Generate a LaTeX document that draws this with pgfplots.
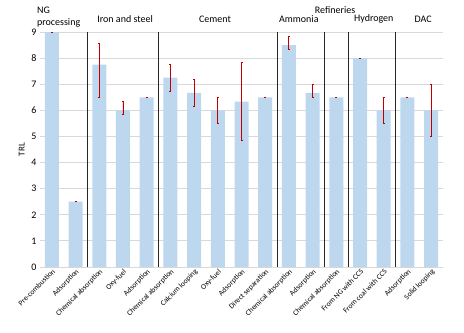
\documentclass[border=0pt]{standalone}
\usepackage{fontspec}
\setmainfont{Carlito}
\usepackage{pgfplots}
\pgfplotsset{compat=1.18}
\usepackage{pgfplotstable}
\usetikzlibrary{calc}
\definecolor{barblue}{RGB}{189,215,238}
\definecolor{errred}{RGB}{192,0,0}
\definecolor{gridgray}{RGB}{217,217,217}

\pgfplotstableread{
x y ep em
0 9.00 0.00 0.00
1 2.50 0.00 0.00
2 7.75 0.80 1.27
3 6.00 0.35 0.16
4 6.50 0.00 0.00
5 7.25 0.53 0.52
6 6.67 0.50 0.53
7 6.00 0.50 0.50
8 6.33 1.50 1.48
9 6.50 0.00 0.00
10 8.50 0.35 0.18
11 6.67 0.33 0.17
12 6.50 0.00 0.00
13 8.00 0.00 0.00
14 6.00 0.50 0.50
15 6.50 0.00 0.00
16 6.00 1.00 1.00
}\datatable

\begin{document}
\begin{tikzpicture}
\begin{axis}[
  name=ax,
  scale only axis,
  width=403pt, height=235pt,
  xmin=-0.5, xmax=16.5,
  ymin=0, ymax=9,
  ytick={0,1,2,3,4,5,6,7,8,9},
  xtick={0,...,16},
  xticklabels={Pre-combustion,Adsorption,Chemical absorption,Oxy-fuel,Adsorption,Chemical absorption,Calcium looping,Oxy-fuel,Adsorption,Direct separation,Chemical absorption,Adsorption,Chemical absorption,From NG with CCS,From coal with CCS,Adsorption,Solid looping},
  xticklabel style={rotate=45, anchor=north east, font=\fontsize{7.5}{9}\selectfont, inner sep=1pt},
  yticklabel style={font=\fontsize{10}{12}\selectfont},
  /pgf/number format/assume math mode=true,
  ylabel={TRL},
  ylabel style={font=\fontsize{9}{11}\selectfont},
  ymajorgrids,
  grid style={gridgray, line width=0.8pt},
  axis line style={draw=none},
  major tick length=0pt,
  clip=false,
]
\addplot[ybar, fill=barblue, draw=none, bar width=14pt,
  error bars/.cd, y dir=both, y explicit,
  error bar style={errred, line width=0.9pt},
  error mark options={errred, mark size=1pt, line width=0.7pt, rotate=90}]
  table[x=x, y=y, y error plus=ep, y error minus=em]{\datatable};

\foreach \s in {1.5,4.5,9.5,11.5,12.5,14.5} {
  \edef\tmp{\noexpand\draw[black!85, line width=0.8pt] (axis cs:\s,0) -- (axis cs:\s,9);}
  \tmp
}

\node[anchor=west, align=left, font=\fontsize{10}{12}\selectfont, inner sep=0pt] at (axis cs:-0.63,9.57) {NG\\processing};
\node[font=\fontsize{10}{12}\selectfont, inner sep=0pt] at (axis cs:3.09,9.5) {Iron and steel};
\node[font=\fontsize{10}{12}\selectfont, inner sep=0pt] at (axis cs:6.88,9.5) {Cement};
\node[font=\fontsize{10}{12}\selectfont, inner sep=0pt] at (axis cs:11.95,9.84) {Refineries};
\node[font=\fontsize{10}{12}\selectfont, inner sep=0pt] at (axis cs:10.42,9.5) {Ammonia};
\node[font=\fontsize{10}{12}\selectfont, inner sep=0pt] at (axis cs:13.58,9.5) {Hydrogen};
\node[font=\fontsize{10}{12}\selectfont, inner sep=0pt] at (axis cs:15.66,9.5) {DAC};
\end{axis}
\pgfresetboundingbox
\path[use as bounding box] ($(ax.south west)+(-40pt,-65pt)$) rectangle ($(ax.north east)+(21pt,32pt)$);
\end{tikzpicture}
\end{document}
